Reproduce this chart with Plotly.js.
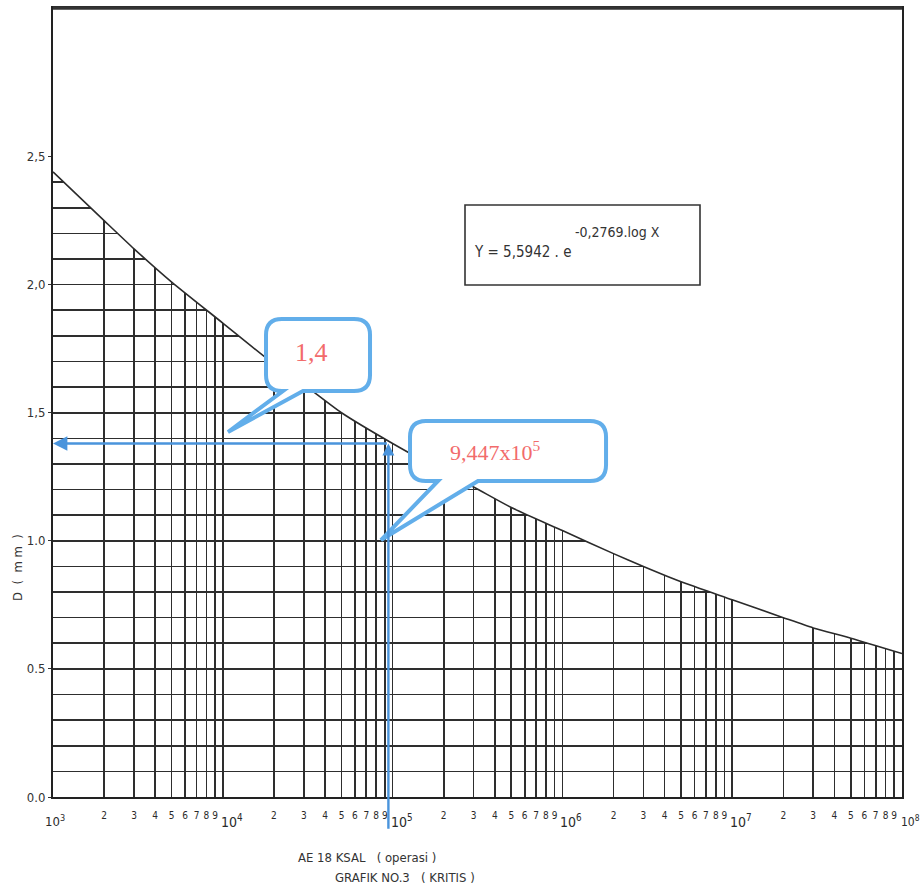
<!DOCTYPE html>
<html>
<head>
<meta charset="utf-8">
<script src="https://cdn.plot.ly/plotly-3.0.1.min.js"></script>
<style>
  html, body { margin: 0; padding: 0; background: #ffffff; }
  #chart { width: 920px; height: 890px; }
</style>
</head>
<body>
<div id="chart"></div>
<script>
// ---- data ----
var xData = [1e3, 2e3, 3e3, 5e3, 1e4, 2e4, 3e4, 5e4, 1e5, 2e5, 3e5, 5e5, 1e6, 2e6, 3e6, 5e6, 1e7, 2e7, 3e7, 5e7, 1e8];
var dData = [2.44, 2.25, 2.14, 2.01, 1.85, 1.69, 1.61, 1.50, 1.38, 1.27, 1.21, 1.13, 1.04, 0.95, 0.90, 0.84, 0.77, 0.70, 0.66, 0.62, 0.56];
var readX = 9.447e4;   // vertical read-off line
var readY = 1.38;      // horizontal read-off line
var yTickVals = [0, 0.5, 1.0, 1.5, 2.0, 2.5];
var yTickText = ['0.0', '0.5', '1.0', '1,5', '2,0', '2,5'];
var decades = [3, 4, 5, 6, 7, 8];
var mantissas = [1, 2, 3, 4, 5, 6, 7, 8, 9];
var labelA = '1,4';
var labelB = '9,447x10<sup>5</sup>';
var formulaMain = 'Y = 5,5942 . e';
var formulaExp = '-0,2769.log X';

// ---- build x ticks (digits as tick labels, decades as separate labels) ----
var xTickVals = [], xTickText = [];
decades.forEach(function (d) {
  mantissas.forEach(function (m) {
    if (d === 8 && m > 1) return;
    xTickVals.push(m * Math.pow(10, d));
    xTickText.push(m === 1 ? '' : String(m));
  });
});

var Y_TOP = 3.08;
var W = 920, H = 890, ML = 53, MR = 18, MT = 8, MB = 93;
var PW = W - ML - MR, PH = H - MT - MB;
function px(x) { return (x - ML) / PW; }
function py(y) { return (H - MB - y) / PH; }
function P(x, y) { return px(x).toFixed(4) + ',' + py(y).toFixed(4); }

function callout(x0, y0, x1, y1, r, bl, br, ax, ay) {
  return 'M' + P(x0 + r, y0) + ' L' + P(x1 - r, y0) +
    ' Q' + P(x1, y0) + ' ' + P(x1, y0 + r) +
    ' L' + P(x1, y1 - r) +
    ' Q' + P(x1, y1) + ' ' + P(x1 - r, y1) +
    ' L' + P(br, y1) + ' L' + P(ax, ay) + ' L' + P(bl, y1) +
    ' L' + P(x0 + r, y1) +
    ' Q' + P(x0, y1) + ' ' + P(x0, y1 - r) +
    ' L' + P(x0, y0 + r) +
    ' Q' + P(x0, y0) + ' ' + P(x0 + r, y0) + ' Z';
}

var FONT = 'DejaVu Sans Condensed, Liberation Sans Narrow, sans-serif';
var SERIF = 'Liberation Serif, Times New Roman, serif';
var BLUE = '#62aeea';
var ARROW = '#4a94dc';
var RED = '#f26b6b';
var INK = '#2a2a2a';
var GRID = '#2e2e2e';

var traces = [
  { x: xData, y: dData, mode: 'lines', line: { width: 0, shape: 'spline', smoothing: 0.6 },
    hoverinfo: 'skip', showlegend: false },
  { x: xData, y: xData.map(function () { return Y_TOP + 0.5; }), mode: 'lines',
    line: { width: 0 }, fill: 'tonexty', fillcolor: '#ffffff', hoverinfo: 'skip', showlegend: false },
  { x: xData, y: dData, mode: 'lines', line: { color: '#2b2b2b', width: 1.6, shape: 'spline', smoothing: 0.6 },
    hoverinfo: 'skip', showlegend: false }
];

var lx = Math.log10(readX);

function ann(o) {
  var base = { xref: 'paper', yref: 'paper', showarrow: false, xanchor: 'center', yanchor: 'middle' };
  for (var k in o) base[k] = o[k];
  return base;
}

var annotations = [
  // read-off arrows
  { xref: 'x', yref: 'y', axref: 'x', ayref: 'y',
    x: 3, y: readY, ax: lx, ay: readY, text: '',
    showarrow: true, arrowhead: 2, arrowsize: 1.2, arrowwidth: 2.4, arrowcolor: ARROW },
  { xref: 'x', yref: 'y', axref: 'x', ayref: 'y',
    x: lx, y: readY, ax: lx, ay: -0.13, text: '',
    showarrow: true, arrowhead: 2, arrowsize: 1.0, arrowwidth: 2.4, arrowcolor: ARROW },
  // callout texts
  ann({ x: px(311), y: py(353), text: labelA, font: { family: SERIF, size: 26, color: RED } }),
  ann({ x: px(495), y: py(451), text: labelB, font: { family: SERIF, size: 22, color: RED } }),
  // formula
  ann({ x: px(472), y: py(252), xanchor: 'left', text: formulaMain, font: { family: FONT, size: 15, color: '#333' } }),
  ann({ x: px(573), y: py(232), xanchor: 'left', text: formulaExp, font: { family: FONT, size: 14, color: '#333' } }),
  // axis titles
  ann({ x: px(18), y: py(568), text: 'D  (  m m  )', textangle: -90, font: { family: FONT, size: 13, color: '#333' } }),
  ann({ x: px(367), y: py(857), text: 'AE 18 KSAL   ( operasi )', font: { family: FONT, size: 13, color: '#333' } }),
  ann({ x: px(405), y: py(877), text: 'GRAFIK NO.3   ( KRITIS )', font: { family: FONT, size: 13, color: '#333' } })
];

// decade labels under the x axis
decades.forEach(function (d, i) {
  var first = (i === 0), last = (i === decades.length - 1);
  annotations.push({
    xref: 'x', yref: 'paper', x: d, y: py(821), showarrow: false,
    xanchor: first ? 'center' : 'left', yanchor: 'middle',
    xshift: first ? 2 : (last ? -3 : -4),
    text: '10<sup>' + d + '</sup>', font: { family: FONT, size: last ? 12 : (first ? 13 : 14), color: INK }
  });
});

var layout = {
  width: W, height: H,
  margin: { l: ML, r: MR, t: MT, b: MB },
  paper_bgcolor: '#ffffff', plot_bgcolor: '#ffffff',
  showlegend: false,
  xaxis: {
    type: 'log', range: [3, 8],
    tickmode: 'array', tickvals: xTickVals, ticktext: xTickText, tickangle: 0,
    tickfont: { family: FONT, size: 10, color: INK },
    ticks: '', ticklabelstandoff: 8,
    showgrid: true, gridcolor: GRID, gridwidth: 1.6,
    showline: true, linecolor: '#222', linewidth: 2, mirror: true,
    zeroline: false, fixedrange: true
  },
  yaxis: {
    range: [0, Y_TOP],
    tickmode: 'array', tickvals: yTickVals, ticktext: yTickText,
    tickfont: { family: FONT, size: 13, color: '#333' },
    ticks: 'outside', ticklen: 3, tickcolor: '#333',
    showgrid: true, gridcolor: GRID, gridwidth: 1.6,
    minor: { dtick: 0.1, showgrid: true, gridcolor: GRID, gridwidth: 1.6, ticks: '' },
    showline: true, linecolor: '#222', linewidth: 2, mirror: true,
    zeroline: false, fixedrange: true
  },
  shapes: [
    { type: 'line', xref: 'paper', yref: 'paper', x0: 0, x1: 1, y0: 1, y1: 1,
      line: { color: '#333', width: 3.5 } },
    { type: 'rect', xref: 'paper', yref: 'paper',
      x0: px(465), x1: px(700), y0: py(285), y1: py(205),
      line: { color: '#333', width: 1.6 }, fillcolor: 'rgba(0,0,0,0)' },
    { type: 'path', xref: 'paper', yref: 'paper', layer: 'above',
      path: callout(266, 319, 370, 391, 16, 283, 303, 228, 432),
      line: { color: BLUE, width: 4 }, fillcolor: '#ffffff' },
    { type: 'path', xref: 'paper', yref: 'paper', layer: 'above',
      path: callout(410, 421, 606, 481, 16, 438, 478, 381, 540),
      line: { color: BLUE, width: 4 }, fillcolor: '#ffffff' }
  ],
  annotations: annotations
};

Plotly.newPlot('chart', traces, layout, { staticPlot: true, displayModeBar: false });
</script>
</body>
</html>
